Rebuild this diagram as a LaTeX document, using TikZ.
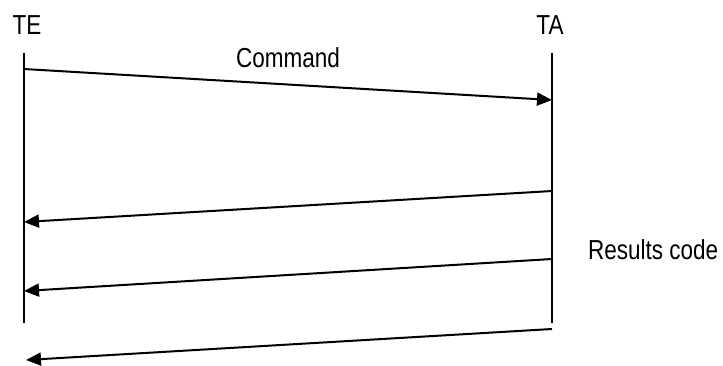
\documentclass[tikz,border=0pt]{standalone}
\usepackage{fontspec}
\usepackage{graphicx}
\setmainfont{Liberation Sans}
\usetikzlibrary{arrows.meta}
\newcommand{\tallText}[1]{\scalebox{1}[1.22]{#1}}

\begin{document}
\begin{tikzpicture}[
  x=1pt, y=-1pt,
  every node/.style={font=\fontsize{22.5}{26}\selectfont, inner sep=0pt},
  lifeline/.style={line width=1.5pt},
  msg/.style={-{Triangle[length=15pt,width=13pt]}, line width=2pt}
]
\useasboundingbox (0,0) rectangle (723,365);
% lifelines
\node (te) at (27,25) {\tallText{TE}};
\node (ta) at (550,25) {\tallText{TA}};
\coordinate (teTop) at (24,53);
\coordinate (teBot) at (24,323);
\coordinate (taTop) at (552,53);
\coordinate (taBot) at (552,323);
\draw[lifeline] (teTop) -- (teBot);
\draw[lifeline] (taTop) -- (taBot);
% messages
\coordinate (c1) at (24,69);
\coordinate (c2) at (552,100);
\draw[msg] (c1) -- (c2);
\node (cmd) at (288,58) {\tallText{Command}};
\coordinate (r1a) at (552,191);
\coordinate (r1b) at (24,222);
\coordinate (r2a) at (552,259);
\coordinate (r2b) at (24,291);
\coordinate (r3a) at (552,329);
\coordinate (r3b) at (26,360);
\draw[msg] (r1a) -- (r1b);
\draw[msg] (r2a) -- (r2b);
\draw[msg] (r3a) -- (r3b);
\node[anchor=west] (res) at (588,250) {\tallText{Results code}};
\end{tikzpicture}
\end{document}
